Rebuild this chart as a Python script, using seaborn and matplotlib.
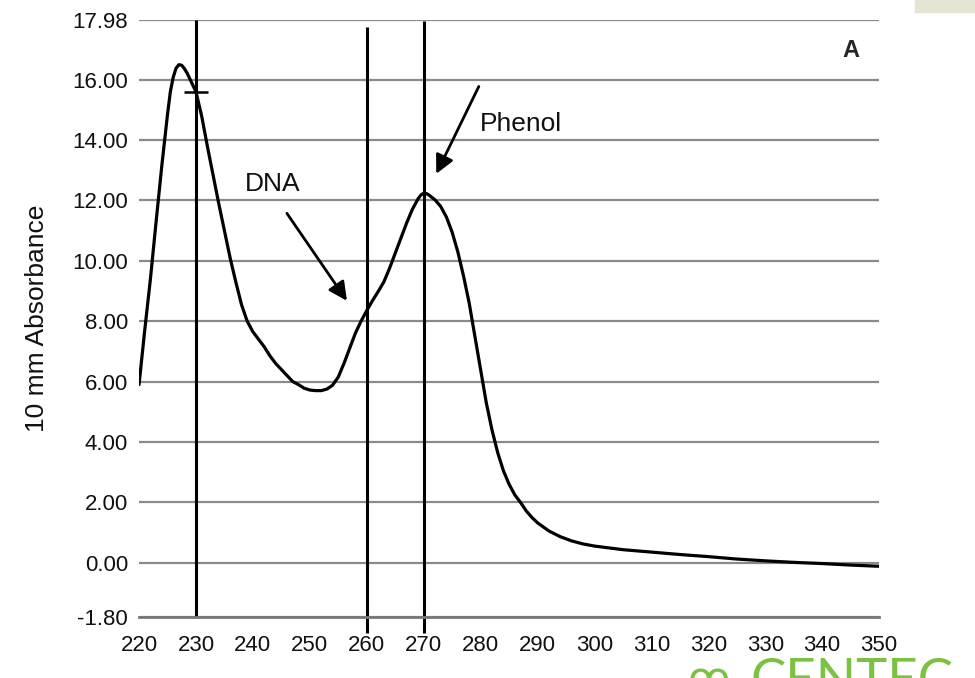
# import libraries
import numpy as np
import seaborn as sns
import matplotlib.pyplot as plt
from matplotlib.patches import Rectangle

# spectrum (nm vs 10 mm absorbance)
wavelength = [220, 221, 222, 223, 224, 225, 225.5, 226, 226.5, 227, 227.5, 228, 228.5, 229,
              230, 231, 232, 233, 234, 235, 236, 237, 238, 239,
              240, 241, 242, 243, 244, 245, 246, 247, 248, 249,
              250, 251, 252, 253, 254, 255, 256, 257, 258, 259,
              260, 261, 262, 263, 264, 265, 266, 267, 268, 269, 269.5,
              270, 270.5, 271, 272, 273, 274, 275, 276, 277, 278, 279,
              280, 281, 282, 283, 284, 285, 286, 287, 288, 289,
              290, 292, 294, 296, 298, 300, 305, 310, 315, 320,
              325, 330, 335, 340, 345, 350]
absorbance = [5.90, 7.70, 9.40, 11.30, 13.15, 14.85, 15.60, 16.08, 16.38, 16.50, 16.48, 16.36, 16.20, 16.00,
              15.60, 14.80, 13.80, 12.85, 11.90, 11.00, 10.10, 9.30, 8.55, 8.00,
              7.65, 7.40, 7.15, 6.85, 6.60, 6.40, 6.20, 6.00, 5.90, 5.78,
              5.72, 5.70, 5.70, 5.75, 5.88, 6.15, 6.60, 7.10, 7.60, 8.00,
              8.35, 8.68, 8.98, 9.30, 9.75, 10.25, 10.75, 11.25, 11.70, 12.05, 12.18,
              12.24, 12.23, 12.17, 12.02, 11.80, 11.45, 10.95, 10.30, 9.50, 8.60, 7.50,
              6.40, 5.30, 4.40, 3.65, 3.05, 2.60, 2.25, 2.00, 1.72, 1.50,
              1.32, 1.05, 0.86, 0.72, 0.62, 0.55, 0.43, 0.35, 0.27, 0.20,
              0.12, 0.06, 0.01, -0.03, -0.08, -0.12]

# reference wavelengths (vertical lines) and their extents
ref_wl = [230, 260, 270]
ref_top = [17.98, 17.75, 17.95]
ref_bottom = [-1.80, -2.33, -2.33]

y_ticks = [-1.80, 0, 2, 4, 6, 8, 10, 12, 14, 16, 17.98]
x_ticks = list(range(220, 351, 10))

sns.set_style('white')
plt.rcParams['font.family'] = ['Liberation Sans', 'DejaVu Sans']

fig = plt.figure(figsize=(9.75, 6.78), dpi=100)
ax = fig.add_axes([0.1426, 0.09, 0.759, 0.8805])

# horizontal grid
for yv in y_ticks:
    ax.axhline(yv, color='#8a8a8a', lw=1.6, zorder=0)

# vertical reference lines
ax.vlines(ref_wl, ref_bottom, ref_top, colors='black', lw=2.2, clip_on=False, zorder=2)

# the spectrum
sns.lineplot(x=wavelength, y=absorbance, color='black', lw=2.3, ax=ax, zorder=3)

# little cross marker where the curve meets 230 nm
ax.plot([230], [np.interp(230, wavelength, absorbance)], marker='_', ms=17,
        mew=1.8, color='black', zorder=4)

# annotations
arrow = dict(arrowstyle='-|>', color='black', lw=2, mutation_scale=28)
ax.annotate('', xy=(256.8, 8.6), xytext=(245.7, 11.65), arrowprops=arrow)
ax.annotate('', xy=(272.0, 12.8), xytext=(279.9, 15.86), arrowprops=arrow)
ax.text(243.4, 12.55, 'DNA', fontsize=19, ha='center', va='center', color='#111111')
ax.text(287.1, 14.55, 'Phenol', fontsize=19, ha='center', va='center', color='#111111')
ax.text(345, 16.98, 'A', fontsize=17, fontweight='bold', ha='center', va='center')

# axes
ax.set_xlim(220, 350)
ax.set_ylim(-1.80, 17.98)
ax.set_xticks(x_ticks)
ax.set_xticklabels([str(v) for v in x_ticks], fontsize=16, color='#111111')
ax.set_yticks(y_ticks)
ax.set_yticklabels([f'{v:.2f}' for v in y_ticks], fontsize=16, color='#111111')
ax.tick_params(axis='x', direction='out', length=11, width=1.6, color='#666666', pad=2)
ax.tick_params(axis='y', direction='out', length=4, width=1, color='#cccccc', pad=4)
ax.set_ylabel('10 mm Absorbance', fontsize=19, labelpad=17, color='#111111')

sns.despine(ax=ax, left=True, top=True, right=True)
ax.spines['bottom'].set_color('#777777')
ax.spines['bottom'].set_linewidth(2)
ax.set_facecolor('white')

# bits of the page around the chart
fig.patches.append(Rectangle((915 / 975, 1 - 12 / 678), 60 / 975, 12 / 678,
                             transform=fig.transFigure, color='#e6e4d2', zorder=0))
fig.text(0.705, -0.034, 'ꝏ', color='#7cc242', fontsize=30, ha='left', va='bottom')
fig.text(0.77, -0.04, 'CENTEC', color='#7cc242', fontsize=38, ha='left',
         va='bottom', family='Lato')

plt.savefig('out.png', dpi=100)
